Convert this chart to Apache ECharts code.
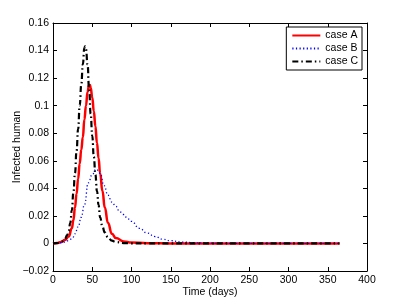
<!DOCTYPE html>
<html><head><meta charset="utf-8">
<script src="https://cdn.jsdelivr.net/npm/echarts@6/dist/echarts.min.js"></script>
<style>html,body{margin:0;padding:0;background:#fff}#c{width:406px;height:305px}</style>
</head><body><div id="c"></div>
<script>
var seriesNames = ['case A', 'case B', 'case C'];
var xTicks = [0, 50, 100, 150, 200, 250, 300, 350, 400];
var yTicks = [-0.02, 0, 0.02, 0.04, 0.06, 0.08, 0.1, 0.12, 0.14, 0.16];

var daysA = [0,5,10,15,20,24,26,28,30,32,34,36,38,40,42,44,46,47,48,50,52,54,56,58,60,63,66,70,75,80,90,100,120,150,200,250,300,365];
var caseA = [0,0.0003,0.001,0.0025,0.005,0.011,0.017,0.026,0.036,0.047,0.058,0.068,0.077,0.09,0.1,0.11,0.115,0.115,0.113,0.106,0.096,0.085,0.073,0.062,0.051,0.038,0.026,0.015,0.007,0.004,0.0015,0.0007,0.0002,0,0,0,0,0];

var daysB = [0,10,15,20,25,28,32,36,40,45,50,55,60,65,70,75,80,85,90,95,100,110,120,130,140,150,165,180,200,250,300,365];
var caseB = [0,0.0005,0.001,0.002,0.004,0.007,0.012,0.019,0.028,0.044,0.05,0.054,0.051,0.042,0.035,0.03,0.027,0.023,0.021,0.018,0.016,0.011,0.0075,0.005,0.003,0.002,0.001,0.0005,0.0002,0,0,0];

var daysC = [0,5,10,15,18,20,22,24,26,28,30,32,34,36,38,40,41,42,44,46,48,50,52,54,56,58,60,63,66,70,75,80,90,100,120,150,200,250,300,365];
var caseC = [0,0.0002,0.001,0.003,0.006,0.009,0.015,0.024,0.037,0.051,0.067,0.083,0.1,0.115,0.13,0.142,0.143,0.141,0.13,0.112,0.094,0.078,0.063,0.05,0.038,0.028,0.019,0.012,0.008,0.0045,0.002,0.001,0.0003,0.0001,0,0,0,0,0,0];

function pairs(xs, ys){ return xs.map(function(x,i){ return [x, ys[i]]; }); }

var FONT = 'Liberation Sans, Arial, Helvetica, sans-serif';
var axisCommon = {
  axisLine: { show: true, onZero: false, lineStyle: { color: '#000', width: 1 } },
  axisTick: { show: true, inside: true, length: 4, lineStyle: { color: '#000' } },
  splitLine: { show: false }
};
function yfmt(v){
  var s = String(parseFloat(Number(v).toFixed(4)));
  return s.replace('-', '\u2212');
}

var chart = echarts.init(document.getElementById('c'), null, { renderer: 'canvas' });
chart.setOption({
  animation: false,
  backgroundColor: '#fff',
  grid: { left: 53, right: 39, top: 23, bottom: 34, containLabel: false, outerBoundsMode: 'none' },
  legend: {
    right: 44, top: 27, orient: 'vertical',
    data: seriesNames,
    backgroundColor: '#fff', borderColor: '#000', borderWidth: 1,
    padding: [3, 4, 3, 5], itemGap: 2, itemWidth: 28, itemHeight: 10.5,
    itemStyle: { opacity: 0 },
    textStyle: { fontSize: 10.5, fontFamily: FONT, color: '#000' }
  },
  xAxis: [
    Object.assign({}, axisCommon, {
      type: 'value', position: 'bottom', min: xTicks[0], max: xTicks[xTicks.length-1], interval: 50,
      name: 'Time (days)', nameLocation: 'middle', nameGap: 16, nameMoveOverlap: false,
      nameTextStyle: { fontSize: 10.5, fontFamily: FONT, color: '#000' },
      axisLabel: { fontSize: 10.5, fontFamily: FONT, color: '#000', margin: 4 }
    }),
    Object.assign({}, axisCommon, {
      type: 'value', position: 'top', min: xTicks[0], max: xTicks[xTicks.length-1], interval: 50,
      axisLabel: { show: false }
    })
  ],
  yAxis: [
    Object.assign({}, axisCommon, {
      type: 'value', position: 'left', min: yTicks[0], max: yTicks[yTicks.length-1], interval: 0.02,
      name: 'Infected human', nameLocation: 'middle', nameGap: 30, nameMoveOverlap: false,
      nameTextStyle: { fontSize: 10.5, fontFamily: FONT, color: '#000' },
      axisLabel: { fontSize: 10.5, fontFamily: FONT, color: '#000', margin: 4, formatter: yfmt }
    }),
    Object.assign({}, axisCommon, {
      type: 'value', position: 'right', min: yTicks[0], max: yTicks[yTicks.length-1], interval: 0.02,
      axisLabel: { show: false }
    })
  ],
  series: [
    { name: seriesNames[0], type: 'line', data: pairs(daysA, caseA), showSymbol: false, symbol: 'none',
      smooth: 0.5, smoothMonotone: 'x', color: '#ff0000',
      lineStyle: { color: '#ff0000', width: 2.5, type: 'solid' } },
    { name: seriesNames[1], type: 'line', data: pairs(daysB, caseB), showSymbol: false, symbol: 'none',
      smooth: 0.5, smoothMonotone: 'x', color: '#0000ff',
      lineStyle: { color: '#0000ff', width: 1.3, type: [1.2, 2.4] } },
    { name: seriesNames[2], type: 'line', data: pairs(daysC, caseC), showSymbol: false, symbol: 'none',
      smooth: 0.5, smoothMonotone: 'x', color: '#000000',
      lineStyle: { color: '#000000', width: 2.2, type: [6, 3, 1.5, 3] } }
  ]
});
</script></body></html>
